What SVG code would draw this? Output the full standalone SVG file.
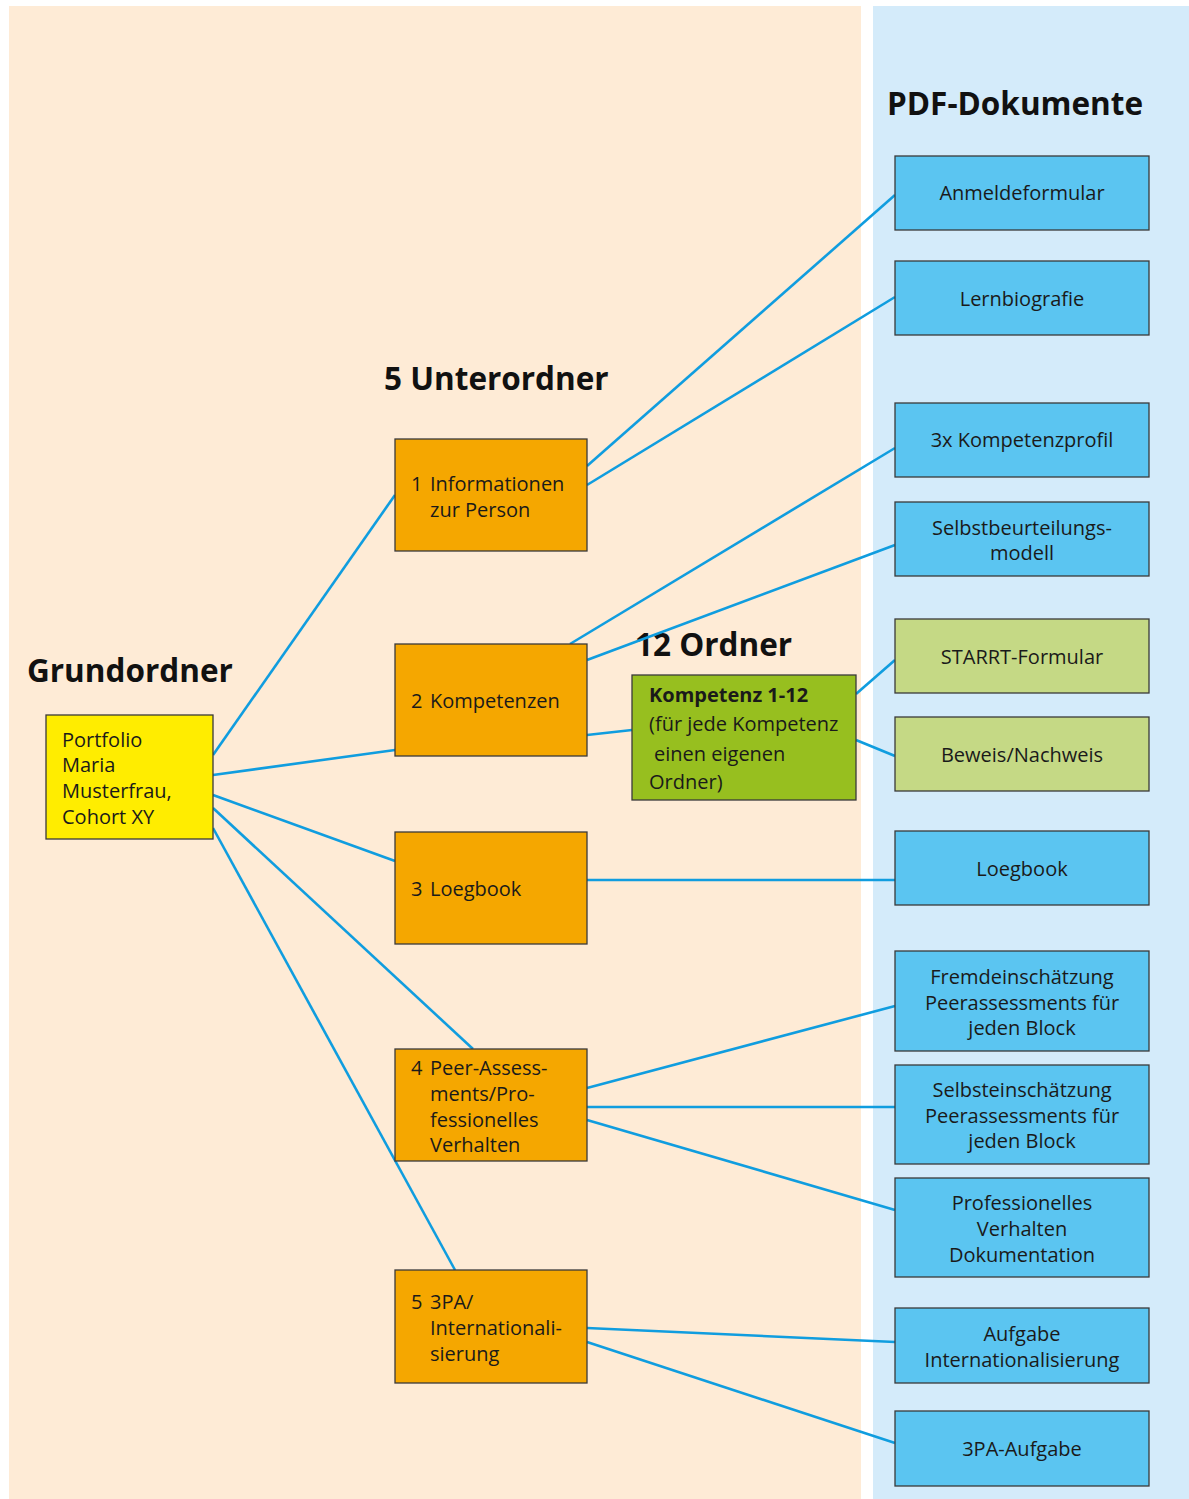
<svg xmlns="http://www.w3.org/2000/svg" width="1189" height="1499" viewBox="0 0 1189 1499">
<style>
text{font-family:"Open Sans","Noto Sans","Liberation Sans",sans-serif;fill:#1a1a1a;}
.t{font-size:20px;font-weight:400;}
.c{text-anchor:middle;}
.h{font-size:31.5px;font-weight:700;fill:#111;}
.b{stroke:#3a3a3a;stroke-width:1.3;}
.pdf{fill:#5bc5f1;}
.lg{fill:#c5d985;}
.or{fill:#f5a700;}
#connectors line{stroke:#109ddf;stroke-width:2.6;}
</style>
<rect x="9" y="6" width="852" height="1493" fill="#feebd6"/>
<rect x="873" y="6" width="316" height="1493" fill="#d4ebfa"/>
<text class="h" x="887" y="115">PDF-Dokumente</text>
<text class="h" x="384" y="390">5 Unterordner</text>
<text class="h" x="27" y="682">Grundordner</text>
<text class="h" x="635" y="656">12 Ordner</text>
<g id="connectors">
<line x1="213" y1="755" x2="395" y2="495"/>
<line x1="213" y1="775" x2="395" y2="750"/>
<line x1="213" y1="795" x2="395" y2="861"/>
<line x1="213" y1="808" x2="473" y2="1049"/>
<line x1="213" y1="828" x2="455" y2="1270"/>
<line x1="587" y1="466" x2="895" y2="195"/>
<line x1="587" y1="485" x2="895" y2="297"/>
<line x1="570" y1="644" x2="895" y2="448"/>
<line x1="587" y1="660" x2="895" y2="545"/>
<line x1="587" y1="735" x2="632" y2="730"/>
<line x1="856" y1="694" x2="895" y2="660"/>
<line x1="856" y1="740" x2="895" y2="756"/>
<line x1="587" y1="880" x2="895" y2="880"/>
<line x1="587" y1="1088" x2="895" y2="1006"/>
<line x1="587" y1="1107" x2="895" y2="1107"/>
<line x1="587" y1="1120" x2="895" y2="1210"/>
<line x1="587" y1="1328" x2="895" y2="1342"/>
<line x1="587" y1="1342" x2="895" y2="1443"/>
</g>
<g id="grund"><rect class="b" x="46" y="715" width="167" height="124" fill="#ffed00"/>
<text class="t" x="62" y="747">Portfolio</text><text class="t" x="62" y="772">Maria</text><text class="t" x="62" y="798">Musterfrau,</text><text class="t" x="62" y="824">Cohort XY</text></g>
<g id="u1"><rect class="b or" x="395" y="439" width="192" height="112"/>
<text class="t" x="411" y="491">1</text><text class="t" x="430" y="491">Informationen</text><text class="t" x="430" y="517">zur Person</text></g>
<g id="u2"><rect class="b or" x="395" y="644" width="192" height="112"/>
<text class="t" x="411" y="708">2</text><text class="t" x="430" y="708">Kompetenzen</text></g>
<g id="u3"><rect class="b or" x="395" y="832" width="192" height="112"/>
<text class="t" x="411" y="896">3</text><text class="t" x="430" y="896">Loegbook</text></g>
<g id="u4"><rect class="b or" x="395" y="1049" width="192" height="112"/>
<text class="t" x="411" y="1075">4</text><text class="t" x="430" y="1075">Peer-Assess-</text><text class="t" x="430" y="1101">ments/Pro-</text><text class="t" x="430" y="1127">fessionelles</text><text class="t" x="430" y="1152">Verhalten</text></g>
<g id="u5"><rect class="b or" x="395" y="1270" width="192" height="113"/>
<text class="t" x="411" y="1309">5</text><text class="t" x="430" y="1309">3PA/</text><text class="t" x="430" y="1335">Internationali-</text><text class="t" x="430" y="1361">sierung</text></g>
<g id="k12"><rect class="b" x="632" y="675" width="224" height="125" fill="#97bf1f"/>
<text class="t" x="649" y="702" style="font-weight:700">Kompetenz 1-12</text><text class="t" x="649" y="731">(für jede Kompetenz</text><text class="t" x="654" y="761">einen eigenen</text><text class="t" x="649" y="789">Ordner)</text></g>
<g id="p1"><rect class="b pdf" x="895" y="156" width="254" height="74"/><text class="t c" x="1022" y="200">Anmeldeformular</text></g>
<g id="p2"><rect class="b pdf" x="895" y="261" width="254" height="74"/><text class="t c" x="1022" y="306">Lernbiografie</text></g>
<g id="p3"><rect class="b pdf" x="895" y="403" width="254" height="74"/><text class="t c" x="1022" y="447">3x Kompetenzprofil</text></g>
<g id="p4"><rect class="b pdf" x="895" y="502" width="254" height="74"/><text class="t c" x="1022" y="535">Selbstbeurteilungs-</text><text class="t c" x="1022" y="560">modell</text></g>
<g id="p5"><rect class="b lg" x="895" y="619" width="254" height="74"/><text class="t c" x="1022" y="664">STARRT-Formular</text></g>
<g id="p6"><rect class="b lg" x="895" y="717" width="254" height="74"/><text class="t c" x="1022" y="762">Beweis/Nachweis</text></g>
<g id="p7"><rect class="b pdf" x="895" y="831" width="254" height="74"/><text class="t c" x="1022" y="876">Loegbook</text></g>
<g id="p8"><rect class="b pdf" x="895" y="951" width="254" height="100"/><text class="t c" x="1022" y="984">Fremdeinschätzung</text><text class="t c" x="1022" y="1010">Peerassessments für</text><text class="t c" x="1022" y="1035">jeden Block</text></g>
<g id="p9"><rect class="b pdf" x="895" y="1065" width="254" height="99"/><text class="t c" x="1022" y="1097">Selbsteinschätzung</text><text class="t c" x="1022" y="1123">Peerassessments für</text><text class="t c" x="1022" y="1148">jeden Block</text></g>
<g id="p10"><rect class="b pdf" x="895" y="1178" width="254" height="99"/><text class="t c" x="1022" y="1210">Professionelles</text><text class="t c" x="1022" y="1236">Verhalten</text><text class="t c" x="1022" y="1262">Dokumentation</text></g>
<g id="p11"><rect class="b pdf" x="895" y="1308" width="254" height="75"/><text class="t c" x="1022" y="1341">Aufgabe</text><text class="t c" x="1022" y="1367">Internationalisierung</text></g>
<g id="p12"><rect class="b pdf" x="895" y="1411" width="254" height="75"/><text class="t c" x="1022" y="1456">3PA-Aufgabe</text></g>
</svg>
